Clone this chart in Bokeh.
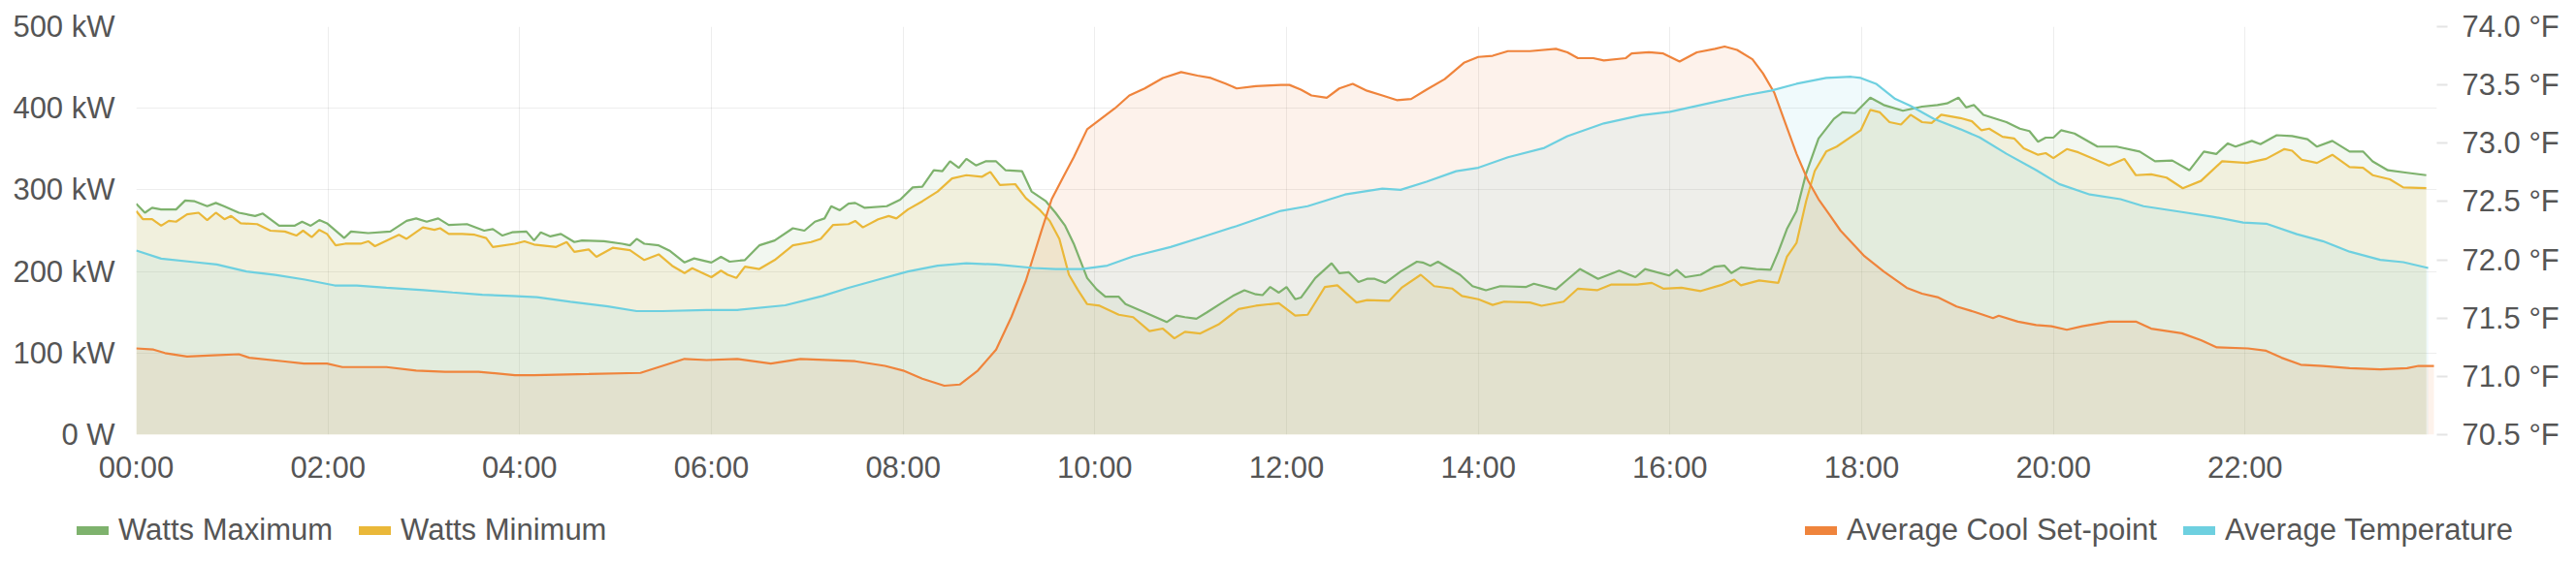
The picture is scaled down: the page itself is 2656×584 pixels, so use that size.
from bokeh.plotting import figure
from bokeh.layouts import column
from bokeh.models import (Range1d, LinearAxis, FixedTicker, Legend, LegendItem,
                          PrintfTickFormatter)
from bokeh.embed import file_html
from bokeh.resources import INLINE

# ---------------- data (hours of day, values) ----------------
max_t = [0.0, 0.09, 0.165, 0.26, 0.415, 0.51, 0.61, 0.74, 0.83, 0.915, 1.07, 1.24, 1.32, 1.49, 1.65,
         1.73, 1.82, 1.91, 1.99, 2.17, 2.24, 2.42, 2.65, 2.82, 2.92, 3.03, 3.15, 3.26, 3.45, 3.63,
         3.72, 3.82, 3.92, 4.07, 4.15, 4.22, 4.32, 4.43, 4.57, 4.65, 4.88, 5.07, 5.15, 5.22, 5.30,
         5.45, 5.57, 5.72, 5.82,
         6.0, 6.1, 6.19, 6.35, 6.5, 6.66, 6.85, 6.97, 7.08, 7.18, 7.25, 7.34, 7.43, 7.5, 7.6, 7.83,
         7.97, 8.1, 8.2, 8.32, 8.41, 8.49, 8.58, 8.66, 8.76, 8.86, 8.97, 9.07, 9.24, 9.34, 9.49,
         9.59, 9.69, 9.78, 9.92, 10.02, 10.11, 10.25, 10.32, 10.52, 10.75, 10.85, 10.94, 11.06,
         11.17, 11.33, 11.44, 11.56, 11.68, 11.75, 11.83,
         11.92, 12.0, 12.09, 12.15, 12.3, 12.47, 12.55, 12.65, 12.75, 12.84, 12.92, 13.03, 13.19,
         13.36, 13.42, 13.5, 13.58, 13.81, 13.94, 14.08, 14.23, 14.5, 14.58, 14.81, 14.93, 15.06,
         15.25, 15.47, 15.64, 15.74, 15.99, 16.07, 16.16, 16.32, 16.47, 16.57, 16.64, 16.74, 16.9,
         17.05, 17.13, 17.22, 17.32, 17.42, 17.55, 17.71, 17.8,
         17.93, 18.09, 18.23, 18.43, 18.63, 18.79, 18.89, 19.01, 19.09, 19.17, 19.27, 19.51, 19.65,
         19.75, 19.84, 19.92, 20.0, 20.08, 20.22, 20.46, 20.66, 20.9, 21.06, 21.24, 21.42, 21.57,
         21.7, 21.82, 21.9, 22.07, 22.16, 22.33, 22.49, 22.65, 22.75, 22.91, 23.09, 23.23, 23.33,
         23.49, 23.69, 23.89]
max_kw = [283, 272, 278, 276, 276, 287, 286, 280, 284, 280, 272, 268, 271, 256, 256,
          261, 256, 263, 259, 241, 249, 247, 249, 262, 265, 261, 265, 257, 258, 250,
          252, 244, 248, 249, 238, 248, 243, 246, 236, 238, 237, 234, 232, 240, 234,
          232, 225, 211, 216,
          211, 218, 212, 214, 232, 238, 253, 250, 261, 265, 280, 275, 283, 284, 278, 280,
          288, 303, 304, 324, 323, 335, 327, 338, 330, 335, 335, 324, 323, 298, 286,
          272, 256, 234, 192, 178, 169, 169, 160, 150, 138, 146, 144, 142,
          150, 162, 170, 177, 172, 171, 181,
          174, 181, 166, 168, 192, 210, 198, 199, 187, 191, 191, 186, 200,
          212, 211, 207, 212, 196, 182, 177, 182, 181, 185, 178, 190, 203,
          191, 201, 193, 203, 195, 202, 193, 196, 206, 207, 198, 205, 203,
          202, 224, 252, 274, 320, 363, 387, 395,
          394, 413, 404, 397, 402, 404, 406, 413, 401, 404, 392, 383, 375,
          372, 359, 364, 364, 373, 369, 353, 353, 347, 335, 336, 324, 347,
          344, 357, 353, 360, 356, 367, 366, 362, 353, 360, 347, 347, 335,
          324, 321, 318]

min_t = [0.0, 0.07, 0.165, 0.26, 0.34, 0.415, 0.53, 0.65, 0.74, 0.83, 0.92, 0.99, 1.09, 1.26, 1.4,
         1.55, 1.67, 1.74, 1.83, 1.91, 1.99, 2.08, 2.18, 2.34, 2.42, 2.49, 2.74, 2.82, 2.99, 3.11,
         3.17, 3.26, 3.4, 3.53, 3.65, 3.72, 3.95, 4.05, 4.15, 4.38, 4.49, 4.57, 4.72, 4.8, 4.97,
         5.15, 5.3, 5.45, 5.59, 5.72, 5.8,
         6.0, 6.1, 6.17, 6.26, 6.35, 6.5, 6.66, 6.85, 7.04, 7.14, 7.27, 7.43, 7.5, 7.58, 7.74,
         7.85, 7.93, 8.05, 8.2, 8.36, 8.51, 8.66, 8.82, 8.91, 9.01, 9.17, 9.28, 9.42, 9.53, 9.63,
         9.73, 9.82, 9.92, 10.05, 10.25, 10.4, 10.57, 10.71, 10.83, 10.94, 11.1, 11.29, 11.5,
         11.68, 11.83,
         11.92, 12.09, 12.22, 12.4, 12.53, 12.73, 12.84, 13.07, 13.2, 13.4, 13.54, 13.73, 13.83,
         14.0, 14.15, 14.27, 14.54, 14.66, 14.89, 15.04, 15.24, 15.39, 15.66, 15.81, 15.93, 16.12,
         16.32, 16.55, 16.67, 16.74, 16.93, 17.13, 17.22, 17.32, 17.42, 17.51, 17.63, 17.74,
         17.99, 18.09, 18.19, 18.29, 18.41, 18.51, 18.63, 18.73, 18.83, 19.03, 19.15, 19.25, 19.33,
         19.47, 19.59, 19.69, 19.84, 19.92, 20.0, 20.14, 20.26, 20.44, 20.58, 20.74, 20.86, 21.02,
         21.18, 21.35, 21.54, 21.76, 22.02, 22.22, 22.41, 22.49, 22.59, 22.75, 22.91, 23.09, 23.23,
         23.33, 23.51, 23.65, 23.89]
min_kw = [274, 264, 264, 256, 262, 261, 270, 272, 263, 272, 264, 268, 259, 258, 250,
          249, 244, 250, 242, 251, 246, 232, 234, 234, 237, 231, 245, 240, 254, 251,
          253, 246, 246, 245, 241, 230, 234, 237, 233, 230, 236, 224, 227, 218, 229,
          226, 214, 221, 207, 198, 204,
          193, 201, 196, 192, 206, 203, 214, 232, 236, 240, 257, 258, 262, 254, 264,
          268, 265, 276, 286, 298, 314, 318, 316, 322, 306, 307, 290, 276, 262, 240,
          196, 178, 160, 158, 147, 144, 127, 130, 118, 126, 124, 135, 154,
          158, 160,
          161, 146, 147, 181, 183, 162, 165, 164, 180, 196, 182, 179, 170,
          166, 159, 163, 162, 158, 163, 179, 177, 184, 184, 186, 179, 180,
          176, 184, 190, 183, 189, 186, 218, 235, 286, 323, 347, 353,
          373, 398, 395, 383, 380, 392, 383, 382, 392, 388, 384, 373, 375,
          365, 363, 351, 343, 345, 339, 350, 346, 337, 330, 338, 318, 319,
          315, 302, 311, 335, 333, 338, 350, 348, 337, 333, 343, 328, 327,
          318, 313, 303, 302]

setp_t = [0.0, 0.18, 0.3, 0.53, 0.8, 1.07, 1.18, 1.53, 1.75, 1.99, 2.15, 2.61, 2.92, 3.22, 3.57,
          3.95, 4.15, 4.72, 5.26, 5.49, 5.72, 5.95,
          6.27, 6.62, 6.93, 7.5, 7.81, 8.0, 8.2, 8.43, 8.59, 8.78, 8.97, 9.13, 9.28, 9.44, 9.55,
          9.67, 9.78, 9.92, 10.05, 10.21, 10.36, 10.52, 10.71, 10.9, 11.07, 11.21, 11.37, 11.48,
          11.68, 11.94,
          12.03, 12.15, 12.26, 12.42, 12.55, 12.69, 12.84, 13.0, 13.15, 13.3, 13.46, 13.65, 13.85,
          14.0, 14.15, 14.31, 14.54, 14.81, 14.93, 15.04, 15.2, 15.31, 15.54, 15.6, 15.78, 15.93,
          16.1, 16.28, 16.47, 16.57, 16.7, 16.86, 16.97, 17.09, 17.2, 17.32, 17.44, 17.55, 17.67,
          17.78,
          18.03, 18.23, 18.47, 18.63, 18.79, 18.99, 19.19, 19.37, 19.43, 19.63, 19.82, 19.98, 20.14,
          20.3, 20.58, 20.86, 21.02, 21.34, 21.54, 21.7, 22.03, 22.22, 22.38, 22.58, 22.81, 23.09,
          23.41, 23.69, 23.81, 23.97]
setp_f = [71.24, 71.23, 71.20, 71.17, 71.18, 71.19, 71.16, 71.13, 71.11, 71.11, 71.08, 71.08, 71.05, 71.04, 71.04,
          71.01, 71.01, 71.02, 71.03, 71.09, 71.15, 71.14,
          71.15, 71.11, 71.15, 71.13, 71.09, 71.05, 70.98, 70.92, 70.93, 71.05, 71.23, 71.51, 71.82, 72.24, 72.52,
          72.71, 72.88, 73.12, 73.20, 73.30, 73.41, 73.47, 73.56, 73.61, 73.58, 73.56, 73.51, 73.47,
          73.49, 73.50,
          73.50, 73.46, 73.41, 73.39, 73.47, 73.51, 73.45, 73.41, 73.37, 73.38, 73.46, 73.55, 73.69,
          73.74, 73.75, 73.79, 73.79, 73.81, 73.78, 73.73, 73.73, 73.71, 73.73, 73.77, 73.78, 73.77,
          73.70, 73.78, 73.81, 73.83, 73.80, 73.72, 73.60, 73.43, 73.18, 72.91, 72.68, 72.52, 72.38,
          72.25,
          72.03, 71.90, 71.76, 71.71, 71.68, 71.60, 71.55, 71.50, 71.52, 71.47, 71.44, 71.43, 71.40,
          71.43, 71.47, 71.47, 71.41, 71.37, 71.31, 71.25, 71.24, 71.22, 71.16, 71.10, 71.09, 71.07,
          71.06, 71.07, 71.09, 71.09]

temp_t = [0.0, 0.26, 0.61, 0.84, 1.15, 1.45, 1.76, 2.07, 2.3, 2.61, 3.0, 3.3, 3.61, 3.92, 4.18,
          4.53, 4.92, 5.22, 5.49, 5.95,
          6.27, 6.77, 7.16, 7.43, 7.74, 8.05, 8.36, 8.66, 8.97, 9.36, 9.59, 9.86, 10.13, 10.4,
          10.79, 11.1, 11.48, 11.94,
          12.22, 12.61, 13.0, 13.19, 13.46, 13.77, 14.0, 14.31, 14.69, 14.93, 15.31, 15.7, 16.0,
          16.39, 16.78, 17.05, 17.32, 17.63, 17.89,
          17.99, 18.15, 18.35, 18.51, 18.75, 19.03, 19.23, 19.51, 19.82, 20.06, 20.38, 20.7, 20.94,
          21.34, 21.66, 21.98, 22.22, 22.54, 22.81, 23.09, 23.41, 23.65, 23.91]
temp_f = [72.08, 72.01, 71.98, 71.96, 71.90, 71.87, 71.83, 71.78, 71.78, 71.76, 71.74, 71.72, 71.70, 71.69, 71.68,
          71.64, 71.60, 71.56, 71.56, 71.57,
          71.57, 71.61, 71.69, 71.76, 71.83, 71.90, 71.95, 71.97, 71.96, 71.93, 71.92, 71.92, 71.95, 72.03,
          72.11, 72.19, 72.29, 72.42,
          72.46, 72.56, 72.61, 72.60, 72.67, 72.76, 72.79, 72.88, 72.96, 73.06, 73.17, 73.24, 73.27,
          73.34, 73.41, 73.45, 73.51, 73.56, 73.57,
          73.56, 73.51, 73.38, 73.32, 73.21, 73.12, 73.05, 72.91, 72.77, 72.65, 72.56, 72.52, 72.46,
          72.41, 72.37, 72.32, 72.31, 72.22, 72.16, 72.07, 72.00, 71.98, 71.93]

x_ticks = [0, 2, 4, 6, 8, 10, 12, 14, 16, 18, 20, 22]
x_tick_labels = ["00:00", "02:00", "04:00", "06:00", "08:00", "10:00",
                 "12:00", "14:00", "16:00", "18:00", "20:00", "22:00"]
kw_ticks = [0, 100, 200, 300, 400, 500]
kw_tick_labels = ["0 W", "100 kW", "200 kW", "300 kW", "400 kW", "500 kW"]
f_ticks = [70.5, 71.0, 71.5, 72.0, 72.5, 73.0, 73.5, 74.0]

series_names = ["Watts Maximum", "Watts Minimum", "Average Cool Set-point", "Average Temperature"]
colors = ["#7EB26D", "#EAB839", "#EF843C", "#6ED0E0"]

FONT = "Liberation Sans"
TXT = "#555555"
FS = "31px"
W = 2650

p = figure(width=W, height=505, output_backend="svg", toolbar_location=None,
           x_range=Range1d(0, 24), y_range=Range1d(0, 500),
           min_border_left=140, min_border_right=W - 2512, min_border_top=27, min_border_bottom=57)
p.title.visible = False
p.outline_line_color = None
p.background_fill_color = "white"
p.extra_y_ranges = {"temp": Range1d(70.5, 74.0)}

# fills
p.varea(x=max_t, y1=0, y2=max_kw, fill_color=colors[0], fill_alpha=0.1)
p.varea(x=min_t, y1=0, y2=min_kw, fill_color=colors[1], fill_alpha=0.1)
p.varea(x=setp_t, y1=70.5, y2=setp_f, fill_color=colors[2], fill_alpha=0.1, y_range_name="temp")
p.varea(x=temp_t, y1=70.5, y2=temp_f, fill_color=colors[3], fill_alpha=0.1, y_range_name="temp")
# lines
p.line(max_t, max_kw, line_color=colors[0], line_width=2.2)
p.line(min_t, min_kw, line_color=colors[1], line_width=2.2)
p.line(setp_t, setp_f, line_color=colors[2], line_width=2.2, y_range_name="temp")
p.line(temp_t, temp_f, line_color=colors[3], line_width=2.2, y_range_name="temp")

# axes
xa = p.xaxis[0]
xa.ticker = FixedTicker(ticks=x_ticks)
xa.major_label_overrides = {t: l for t, l in zip(x_ticks, x_tick_labels)}
ya = p.yaxis[0]
ya.ticker = FixedTicker(ticks=kw_ticks)
ya.major_label_overrides = {t: l for t, l in zip(kw_ticks, kw_tick_labels)}
ra = LinearAxis(y_range_name="temp", ticker=FixedTicker(ticks=f_ticks),
                formatter=PrintfTickFormatter(format="%.1f °F"))
p.add_layout(ra, "right")

for ax in (xa, ya, ra):
    ax.axis_line_color = None
    ax.minor_tick_line_color = None
    ax.major_label_text_font = FONT
    ax.major_label_text_font_size = FS
    ax.major_label_text_color = TXT
xa.major_tick_line_color = None
ya.major_tick_line_color = None
xa.major_label_standoff = 10
ya.major_label_standoff = 16
ra.major_tick_line_color = "#e4e4e4"
ra.major_tick_line_width = 2
ra.major_tick_out = 11
ra.major_tick_in = 0
ra.major_label_standoff = 15

p.xgrid.grid_line_color = "#000000"
p.xgrid.grid_line_alpha = 0.07
p.ygrid.grid_line_color = "#000000"
p.ygrid.grid_line_alpha = 0.07

# legend row (separate strip under the chart, its frame spans the full width)
LH = 70
lf = figure(width=W, height=LH, output_backend="svg", toolbar_location=None,
            x_range=Range1d(0, W), y_range=Range1d(0, LH),
            x_axis_location=None, y_axis_location=None, min_border=0)
try:
    lf.frame_align = False
    p.frame_align = False
except Exception:
    pass
lf.title.visible = False
lf.outline_line_color = None
lf.grid.visible = False
# one-point lines: nothing drawn in the strip, but they give the legend its swatch styles
sw = [lf.line([-100], [-100], line_color=c, line_width=9, line_cap="round") for c in colors]

common = dict(orientation="horizontal", glyph_width=33, glyph_height=30, label_standoff=10,
              spacing=27, padding=0, margin=0, border_line_color=None, background_fill_alpha=0,
              label_text_font=FONT, label_text_font_size=FS, label_text_color=TXT)
leg1 = Legend(items=[LegendItem(label=series_names[0], renderers=[sw[0]]),
                     LegendItem(label=series_names[1], renderers=[sw[1]])],
              location=(79, 10), **common)
leg2 = Legend(items=[LegendItem(label=series_names[2], renderers=[sw[2]]),
                     LegendItem(label=series_names[3], renderers=[sw[3]])],
              location=(1861, 10), **common)
lf.add_layout(leg1, "center")
lf.add_layout(leg2, "center")

open("out.html", "w").write(file_html(column(p, lf, spacing=0), INLINE))
